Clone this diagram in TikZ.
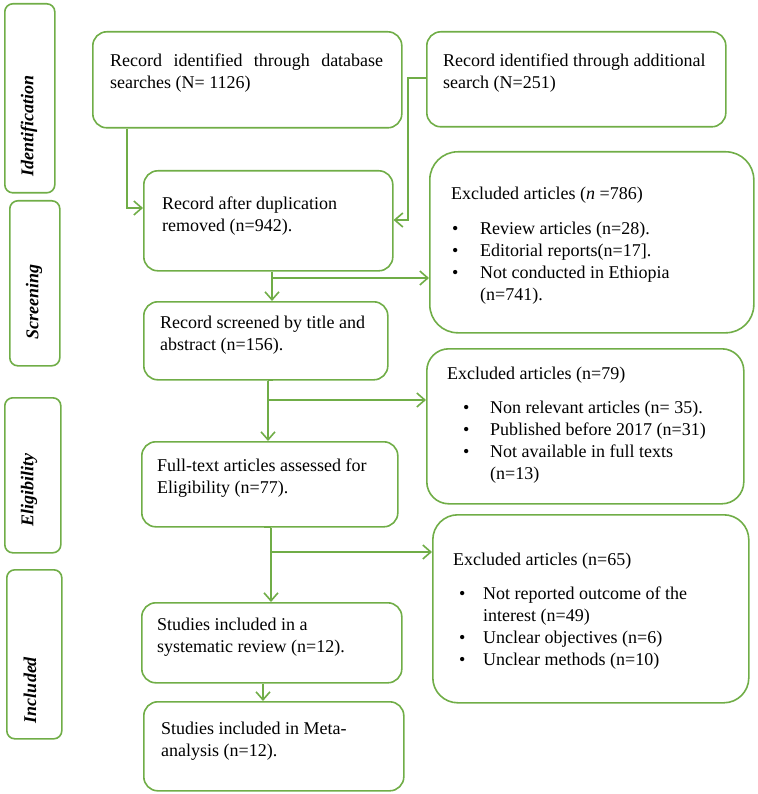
\documentclass[tikz,border=0pt]{standalone}
\usepackage{fontspec}
\setmainfont{Liberation Serif}
\usetikzlibrary{arrows.meta}
\definecolor{pgreen}{HTML}{70AD47}
\tikzset{
  box/.style={draw=pgreen, line width=1.6pt, rounded corners=14pt, anchor=north west, inner sep=0pt},
  sidebox/.style={box, rounded corners=8pt},
  txt/.style={anchor=north west, inner sep=0pt, align=left, font=\fontsize{18}{22}\selectfont},
  sidetxt/.style={rotate=90, inner sep=0pt, font=\fontsize{18}{22}\selectfont\bfseries\itshape},
  arr/.style={draw=pgreen, line width=1.6pt, -{Straight Barb[length=8pt,width=14pt]}},
  ln/.style={draw=pgreen, line width=1.6pt},
}
\newcommand{\bul}[2]{\makebox[#1pt][l]{}\makebox[#2pt][l]{\textbullet}}
\newcommand{\ind}[1]{\makebox[#1pt][l]{}}
\begin{document}
\begin{tikzpicture}[x=1pt,y=-1pt]
\useasboundingbox (0,0) rectangle (757,794);
% side labels
\node[sidebox, minimum width=50pt, minimum height=189pt] (s1) at (4,3) {};
\node[sidebox, minimum width=50pt, minimum height=165pt] (s2) at (9,200) {};
\node[sidebox, minimum width=56pt, minimum height=155pt] (s3) at (4,397) {};
\node[sidebox, minimum width=55pt, minimum height=169pt] (s4) at (6,569) {};
\node[sidetxt] (l1) at (29,126) {Identification};
\node[sidetxt] (l2) at (34,302) {Screening};
\node[sidetxt] (l3) at (29,490) {Eligibility};
\node[sidetxt] (l4) at (30,690) {Included};
% boxes
\node[box, minimum width=309pt, minimum height=96pt] (b1) at (92,31) {};
\node[box, minimum width=299pt, minimum height=95pt] (b2) at (426,31) {};
\node[box, minimum width=249pt, minimum height=100pt] (b3) at (143,170) {};
\node[box, rounded corners=28pt, minimum width=324pt, minimum height=181pt] (b4) at (429,151) {};
\node[box, minimum width=244pt, minimum height=78pt] (b5) at (143,301) {};
\node[box, rounded corners=22pt, minimum width=317pt, minimum height=155pt] (b6) at (426,348) {};
\node[box, minimum width=256pt, minimum height=85pt] (b7) at (141,441) {};
\node[box, rounded corners=25pt, minimum width=316pt, minimum height=188pt] (b8) at (432,514) {};
\node[box, minimum width=260pt, minimum height=80pt] (b9) at (141,602) {};
\node[box, minimum width=260pt, minimum height=89pt] (b10) at (143,701) {};
% texts
\node[txt, text width=273pt, align=justify] (t1) at (110,50.6) {\strut Record identified through database searches (N= 1126)};
\node[txt] (t2) at (443,50.6) {\strut Record identified through additional\\search (N=251)};
\node[txt] (t3) at (162,193.6) {\strut Record after duplication\\removed (n=942).};
\node[txt] (t4) at (451,183.6) {\strut Excluded articles (\textit{n} =786)\\[13pt]
\bul{1}{28}Review articles (n=28).\\
\bul{1}{28}Editorial reports(n=17].\\
\bul{1}{28}Not conducted in Ethiopia\\
\ind{29}(n=741).};
\node[txt] (t5) at (160,312.6) {\strut Record screened by title and\\abstract (n=156).};
\node[txt] (t6) at (447,363.6) {\strut Excluded articles (n=79)\\[12pt]
\bul{16}{27}Non relevant articles (n= 35).\\
\bul{16}{27}Published before 2017 (n=31)\\
\bul{16}{27}Not available in full texts\\
\ind{43}(n=13)};
\node[txt] (t7) at (157,455.6) {\strut Full-text articles assessed for\\Eligibility (n=77).};
\node[txt] (t8) at (453,549.6) {\strut Excluded articles (n=65)\\[12pt]
\bul{6}{24}Not reported outcome of the\\
\ind{30}interest (n=49)\\
\bul{6}{24}Unclear objectives (n=6)\\
\bul{6}{24}Unclear methods (n=10)};
\node[txt] (t9) at (157,614.6) {\strut Studies included in a\\systematic review (n=12).};
\node[txt] (t10) at (161,718.6) {\strut Studies included in Meta-\\analysis (n=12).};
% connectors
\draw[arr] (b1.south -| 127,0) |- (b3.west |- 0,208);
\draw[arr] (b2.west |- 0,78) -- ++(-18,0) |- (b3.east |- 0,220);
\coordinate (j3) at (272,278);
\draw[arr] (b3.south -| j3) -- (b5.north -| j3);
\draw[arr] (j3) -- (b4.west |- j3);
\coordinate (j4) at (268,400);
\draw[ln] (b5.south -| 273,0) -- (b5.south -| j4);
\draw[arr] (b5.south -| j4) -- (b7.north -| j4);
\draw[arr] (j4) -- (b6.west |- j4);
\coordinate (j5) at (271,552);
\draw[ln] (b7.south -| 264,0) -- (b7.south -| j5);
\draw[arr] (b7.south -| j5) -- (b9.north -| j5);
\draw[arr] (j5) -- (b8.west |- j5);
\draw[arr] (b9.south -| 263,0) -- (b10.north -| 263,0);
\end{tikzpicture}
\end{document}
